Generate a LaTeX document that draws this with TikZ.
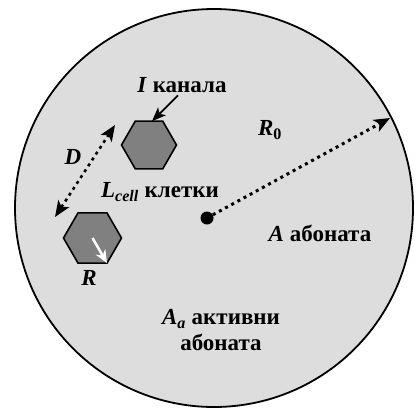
\documentclass[tikz,border=0pt]{standalone}
\usepackage{fontspec}
\setmainfont{Liberation Serif}
\usetikzlibrary{arrows.meta,shapes.geometric,positioning}
\definecolor{area_gray}{RGB}{221,221,221}
\definecolor{cell_gray}{RGB}{128,128,128}

\begin{document}
\begin{tikzpicture}[x=1pt,y=-1pt,font=\fontsize{23}{26}\selectfont\bfseries,
    hexcell/.style={regular polygon,regular polygon sides=6,draw,line width=1.6pt,fill=cell_gray,inner sep=0pt,outer sep=0pt},
    dotted_line/.style={line width=3pt,dash pattern=on 3pt off 4pt},
    tip/.tip={Stealth[length=16pt,width=13pt,inset=4pt]}]
        \useasboundingbox (0,0) rectangle (419,408);
        \draw[fill=area_gray,line width=1.8pt] (214,208) circle[radius=199pt];
        \node[hexcell,minimum size=55pt] (chan) at (149,145) {};
        \node[hexcell,minimum size=58pt] (cell) at (92.5,238) {};
        \node[circle,fill,inner sep=0pt,minimum size=13pt] (base) at (207,218) {};
        \coordinate (rim) at (390,118);
        \draw[dotted_line,-tip] (base) -- (rim);
        \node (r0) at (270,130) {\textit{R}\textsubscript{0}};
        \node (chan_lbl) at (182,85) {\textit{I} канала};
        \draw[line width=1.8pt,-{Stealth[length=14pt,width=11pt,inset=3.5pt]}]
          ([xshift=-4pt,yshift=-3pt]chan_lbl.base) -- ([xshift=3pt]chan.north);
        \coordinate (d_top) at (115,125);
        \coordinate (d_bot) at (55,217);
        \draw[dotted_line,line width=2.6pt,tip-tip] (d_top) -- (d_bot);
        \node (d_lbl) at (73,157) {\textit{D}};
        \draw[white,line width=2.5pt,-{Stealth[length=13pt,width=11pt]}] (cell.center) -- (cell.-60);
        \node (r_lbl) at (89,278) {\textit{R}};
        \node (cell_lbl) at (160,192) {\textit{L}\textsubscript{\textit{cell}} клетки};
        \node (a_lbl) at (320,233) {\textit{A} абоната};
        \node[align=center] (aa_lbl) at (221,330) {\textit{A}\textsubscript{\textit{a}} активни\\абоната};
\end{tikzpicture}
\end{document}
